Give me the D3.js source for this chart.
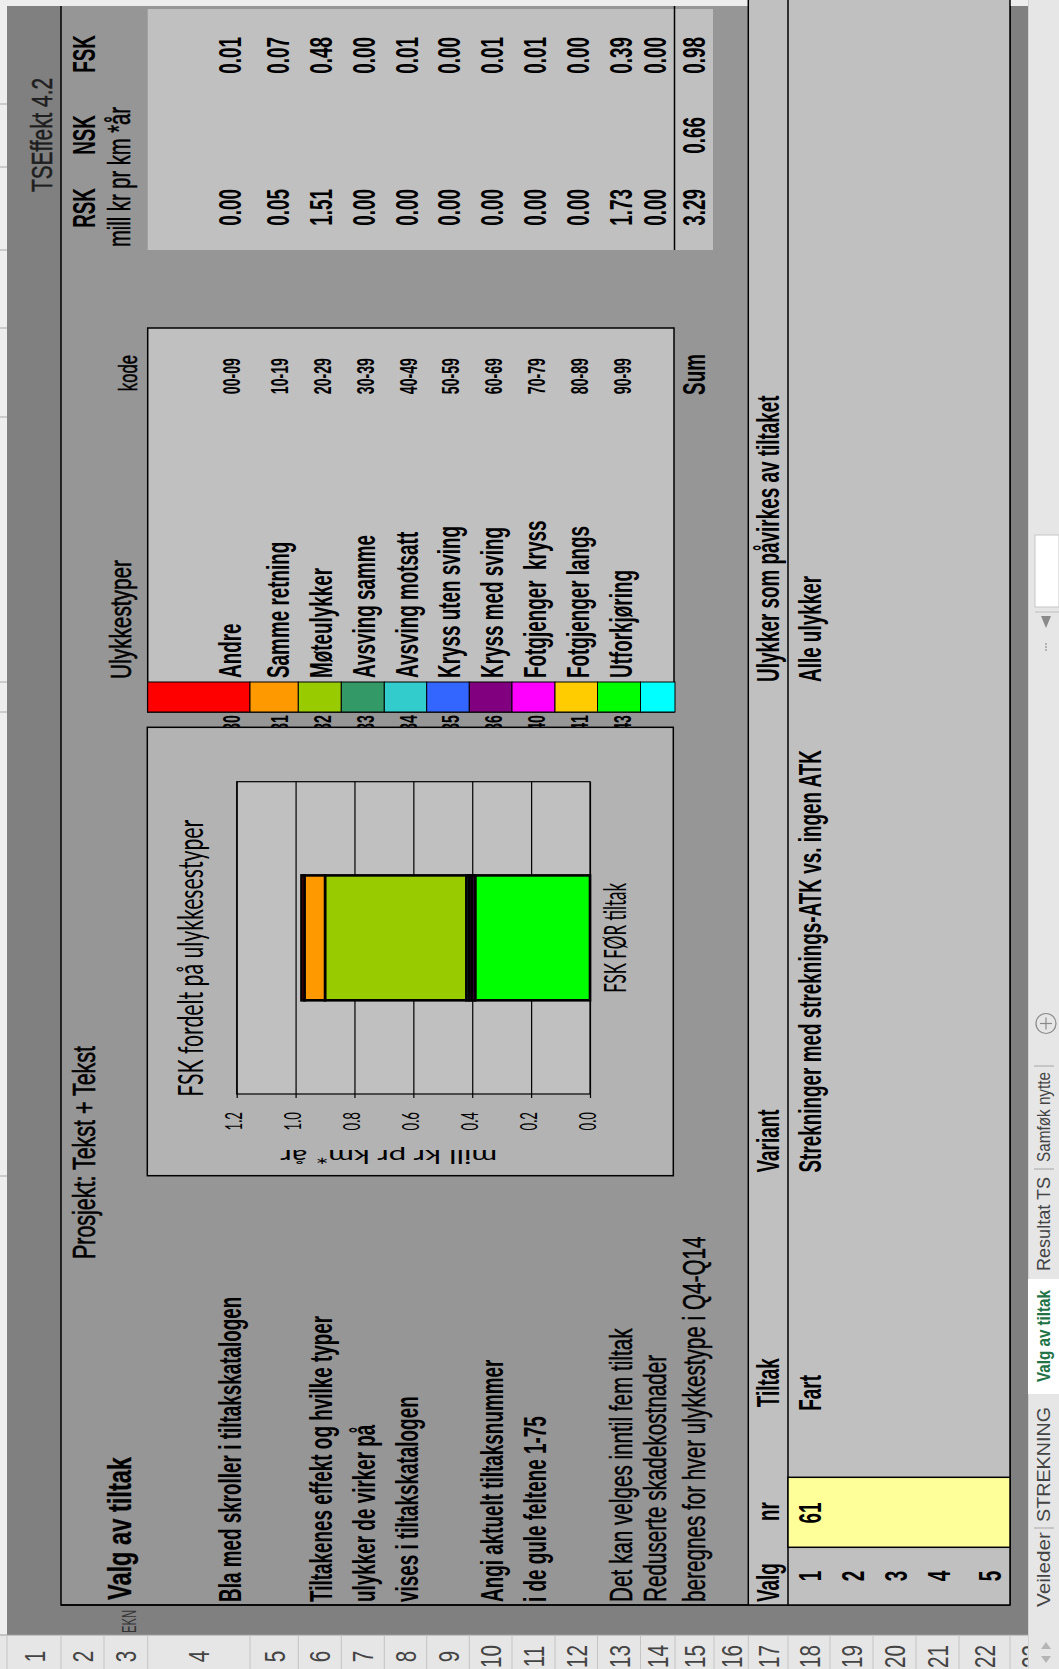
<!DOCTYPE html>
<html><head><meta charset="utf-8">
<script src="https://cdn.jsdelivr.net/npm/d3@7"></script>
<style>html,body{margin:0;padding:0;background:#fff;} svg{display:block} text{white-space:pre}</style>
</head><body>
<svg id="c" width="1059" height="1669"></svg>
<script>
// ================= DATA =================
const accidentTypes = ["Andre","Samme retning","Møteulykker","Avsving samme","Avsving motsatt","Kryss uten sving","Kryss med sving","Fotgjenger  kryss","Fotgjenger langs","Utforkjøring",""];
const typeCodes = ["00-09","10-19","20-29","30-39","40-49","50-59","60-69","70-79","80-89","90-99",""];
const hiddenCodes = ["30","31","32","33","34","35","36","40","41","43",""];
const typeColors = ["#ff0000","#ff9900","#99cc00","#339966","#33cccc","#3366ff","#800080","#ff00ff","#ffcc00","#00ff00","#00ffff"];
const costHeaders = ["RSK","NSK","FSK"];
const rskValues = [0.00,0.05,1.51,0.00,0.00,0.00,0.00,0.00,0.00,1.73,0.00];
const fskValues = [0.01,0.07,0.48,0.00,0.01,0.00,0.01,0.01,0.00,0.39,0.00];
const costSums = [3.29,0.66,0.98];
const barCategories = ["FSK FØR tiltak"];
const yTicks = [0,0.2,0.4,0.6,0.8,1.0,1.2];
const choiceNumbers = ["1","2","3","4","5"];
const chosenNr = ["61"];
const chosenTiltak = ["Fart"];
const chosenVariant = ["Strekninger med streknings-ATK vs. ingen ATK"];
const chosenUlykker = ["Alle ulykker"];
const instructionRows = [4,6,7,8,10,11,13,14,15];
const instructionText = ["Bla med skroller i tiltakskatalogen","Tiltakenes effekt og hvilke typer","ulykker de virker på","vises i tiltakskatalogen","Angi aktuelt tiltaksnummer","i de gule feltene 1-75","Det kan velges inntil fem tiltak","Reduserte skadekostnader","beregnes for hver ulykkestype i Q4-Q14"];
const instructionBold = [true,true,true,true,true,true,false,false,false];
const sheetTabs = ["Veileder","STREKNING","Valg av tiltak","Resultat TS","Samføk nytte"];
const rowNumbers = d3.range(1,24).map(String);

// ================= LAYOUT =================
const FONT = "'Liberation Sans', Arial, sans-serif";
const CFONT = "Lato, 'Open Sans', sans-serif";
const rowB = [7,61,104,147.7,250,298.3,341.3,384.3,426.7,469.3,512,555,597.5,640.5,675,714,748.3,788,830,873,916,959,1010,1052];
const base = r => rowB[r] - 9;
const B = {size:32, weight:700, k:0.59};
const R = {size:31, weight:400, k:0.667, thick:0.5};

const svg = d3.select('#c');
// the sheet is drawn in its own frame (u to the right, v down) and turned a quarter turn
const root = svg.append('g').attr('transform','translate(0,1669) rotate(-90)');

function box(p,u0,u1,v0,v1,fill,stroke,sw){
  return p.append('rect').attr('x',u0).attr('y',v0).attr('width',u1-u0).attr('height',v1-v0)
    .attr('fill',fill).attr('stroke',stroke||'none').attr('stroke-width',sw||0);
}
function line(p,u0,v0,u1,v1,stroke,sw){
  return p.append('line').attr('x1',u0).attr('y1',v0).attr('x2',u1).attr('y2',v1).attr('stroke',stroke).attr('stroke-width',sw);
}
function T(p,s,o){
  if(!s) return null;
  const fill = o.fill||'#000';
  const t = p.append('text').text(s)
    .attr('font-family',o.fam||FONT).attr('font-size',o.size)
    .attr('font-weight',o.weight||400).attr('fill',fill)
    .attr('y',o.v).attr('x',0);
  if(o.thick){ t.attr('stroke',fill).attr('stroke-width',o.thick); }
  const nat = t.node().getComputedTextLength();
  const L = o.len!=null ? o.len : nat*(o.k||1);
  let x0 = o.u;
  if(o.anchor==='end') x0 = o.u - L; else if(o.anchor==='middle') x0 = o.u - L/2;
  t.attr('x',x0).attr('textLength',L).attr('lengthAdjust','spacingAndGlyphs');
  return t;
}

// ---- backgrounds ----
box(root,0,1669,0,1059,'#808080');
box(root,34,1669,0,7,'#eeeeee');
[493,957,987,1252,1341,1419,1502,1565].forEach(u=>line(root,u,0,u,7,'#a8a8a8',1));
box(root,64,1700,61,1010,'#969696','#000',1.5);
box(root,1663,1669,0,1028,'#ededed');

// row header
box(root,0,34,0,1028,'#e6e6e6');
line(root,34,0,34,1028,'#9c9c9c',1);
rowB.forEach(v=>line(root,0,v,34,v,'#c4c4c4',1));
rowNumbers.forEach((s,i)=>{
  const vc = (rowB[i]+rowB[i+1])/2;
  T(root,s,{u:12.5,v:vc+10.5,size:30,weight:400,k:0.69,anchor:'middle',fill:'#444'});
});

// ---- header texts ----
T(root,"TSEffekt 4.2",{u:1477,v:52,size:29,len:114,fill:'#1e1e1e',thick:0.5});
T(root,"Prosjekt: Tekst + Tekst",{u:410,v:95,size:31,len:213,thick:0.6});
T(root,"EKN",{u:36,v:136,size:20,len:23,fill:'#333'});
T(root,"Valg av tiltak",{u:69,v:131,size:33,weight:700,len:143,thick:0.3});

// ---- table box with RSK / NSK / FSK ----
box(root,1419,1660,147.7,713,'#c0c0c0');
line(root,1419,674.5,1663,674.5,'#000',1.5);
const colRight = [1480,1552,1632];
const headRight = [1481,1554,1634];
costHeaders.forEach((h,i)=>T(root,h,Object.assign({u:headRight[i],v:base(2),anchor:'end'},B)));
T(root,"mill kr pr km *år",{u:1422,v:130,size:31,len:140,thick:0.5});
rskValues.forEach((d,i)=>T(root,d.toFixed(2),Object.assign({u:colRight[0],v:base(4+i),anchor:'end'},B)));
fskValues.forEach((d,i)=>T(root,d.toFixed(2),Object.assign({u:colRight[2],v:base(4+i),anchor:'end'},B)));
costSums.forEach((d,i)=>T(root,d.toFixed(2),Object.assign({u:colRight[i],v:base(15),anchor:'end'},B)));

// ---- legend box ----
T(root,"Ulykkestyper",{u:990,v:131,size:29,len:119,thick:0.6});
T(root,"kode",{u:1314,v:136.7,size:25,weight:400,k:0.667,anchor:'end',thick:0.5});
box(root,957,1341,147.7,674,'#c0c0c0','#000',1.5);
hiddenCodes.forEach((s,i)=>T(root,s,{u:954,v:rowB[4+i]-10,size:24,weight:700,k:0.59,anchor:'end'}));
accidentTypes.forEach((s,i)=>{
  box(root,957,987,rowB[3+i],rowB[4+i],typeColors[i],'#000',1);
  T(root,s,Object.assign({u:991,v:base(4+i)},B));
  T(root,typeCodes[i],{u:1311,v:rowB[4+i]-10,size:24,weight:700,k:0.59,anchor:'end'});
});
T(root,"Sum",Object.assign({u:1315,v:base(15),anchor:'end'},B));

// ---- instructions ----
instructionText.forEach((s,i)=>{
  T(root,s,Object.assign({u:67,v:base(instructionRows[i])}, instructionBold[i]?B:R));
});

// ---- chart ----
const chart = root.append('g');
box(chart,493.3,941.7,147.3,673.3,'#b3b3b3','#000',1.5);
const y = d3.scaleLinear().domain([0,1.2]).range([590,236.7]);
const x = d3.scaleBand().domain(barCategories).range([575,887.3]).paddingInner(0).paddingOuter(0.75);
box(chart,575,887.3,236.7,590,'#c0c0c0');
const grid = chart.append('g').attr('transform','translate(575,0)')
  .call(d3.axisLeft(y).tickValues(yTicks).tickSize(-(887.3-575)).tickFormat(''));
grid.select('.domain').remove();
grid.selectAll('line').attr('stroke','#000').attr('stroke-width',1.2);
const yAx = chart.append('g').attr('transform','translate(575,0)')
  .call(d3.axisLeft(y).tickValues(yTicks).tickSizeInner(4).tickSizeOuter(0).tickPadding(14).tickFormat(d3.format('.1f')));
yAx.select('.domain').remove();
yAx.selectAll('line').attr('stroke','#000').attr('stroke-width',1.2);
yAx.selectAll('text').attr('font-family',CFONT).attr('font-size',24).attr('fill','#000')
  .attr('dy','0.22em').attr('text-anchor','start').each(function(){
    const L = 18.5; d3.select(this).attr('x',-18-L).attr('textLength',L).attr('lengthAdjust','spacingAndGlyphs');
  });
box(chart,575,887.3,236.7,590,'none','#000',1.2);

const stackKeys = d3.range(accidentTypes.length).reverse();
const stackRow = [Object.fromEntries(fskValues.map((d,i)=>[i,d]))];
const series = d3.stack().keys(stackKeys)(stackRow);
chart.append('g').selectAll('g').data(series).join('g')
  .attr('fill',s=>typeColors[s.key])
  .selectAll('rect').data(s=>s).join('rect')
  .attr('x',x(barCategories[0])).attr('width',x.bandwidth())
  .attr('y',d=>y(d[1])).attr('height',d=>y(d[0])-y(d[1]))
  .attr('stroke','#000').attr('stroke-width',2.6);

const xAx = chart.append('g').attr('transform','translate(0,590)')
  .call(d3.axisBottom(x).tickSize(0).tickPadding(15));
xAx.select('.domain').remove();
xAx.selectAll('text').attr('font-family',CFONT).attr('font-size',30).attr('fill','#000')
  .attr('text-anchor','start').each(function(d){
    const L = 110; d3.select(this).attr('x',-L/2).attr('textLength',L).attr('lengthAdjust','spacingAndGlyphs');
  });
T(chart,"FSK fordelt på ulykkesestyper",{u:572.3,v:202.7,size:35,len:277,fam:CFONT});
const yt = chart.append('g').attr('transform','translate(519,388.8) rotate(-90)');
T(yt,"mill kr pr km* år",{u:0,v:0,size:19,len:217,fam:CFONT,anchor:'middle'});

// ---- choice table ----
box(root,64,1700,748.3,1010,'#c0c0c0');
line(root,64,748.3,1669,748.3,'#000',1.5);
line(root,64,788,1669,788,'#000',1.5);
line(root,64,1010,1669,1010,'#000',1.5);
line(root,64,61,64,1010,'#000',1.5);
box(root,121.7,191.7,788,1010,'#ffff99','#000',1.5);
T(root,"Valg",Object.assign({u:67,v:base(17)},B));
T(root,"nr",Object.assign({u:157.5,v:base(17),anchor:'middle'},B));
T(root,"Tiltak",Object.assign({u:261.7,v:base(17)},B));
T(root,"Variant",Object.assign({u:496.5,v:base(17)},B));
T(root,"Ulykker som påvirkes av tiltaket",Object.assign({u:987,v:base(17)},B));
choiceNumbers.forEach((s,i)=>T(root,s,Object.assign({u:93,v:base(18+i),anchor:'middle'},B)));
chosenNr.forEach((s,i)=>T(root,s,Object.assign({u:156,v:base(18+i),anchor:'middle'},B)));
chosenTiltak.forEach((s,i)=>T(root,s,Object.assign({u:258.3,v:base(18+i)},B)));
chosenVariant.forEach((s,i)=>T(root,s,Object.assign({u:496.5,v:base(18+i)},B)));
chosenUlykker.forEach((s,i)=>T(root,s,Object.assign({u:987,v:base(18+i)},B)));

// ---- sheet tab bar ----
box(root,0,1669,1028,1059,'#e6e6e6');
line(root,0,1028.5,1669,1028.5,'#d2d2d2',1);
box(root,275,390,1028,1059,'#ffffff');
const tabStart = [62,147,287,398,507];
const tabLen = [75,115,92,94,90];
sheetTabs.forEach((s,i)=>{
  const active = i===2;
  T(root,s,{u:tabStart[i],v:1050,size:19,weight:active?700:400,len:tabLen[i],fill:active?'#217346':'#444'});
});
[141,500,603].forEach(u=>line(root,u,1034,u,1054,'#a6a6a6',1));
root.append('circle').attr('cx',645.5).attr('cy',1046).attr('r',10).attr('fill','none').attr('stroke','#8a8a8a').attr('stroke-width',1.2);
line(root,639.5,1046,651.5,1046,'#8a8a8a',1.2);
line(root,645.5,1040,645.5,1052,'#8a8a8a',1.2);
root.append('path').attr('d','M6,1046 L13,1041 L13,1051 Z').attr('fill','#b5b5b5');
root.append('path').attr('d','M27,1046 L20,1041 L20,1051 Z').attr('fill','#b5b5b5');
[1019,1022,1025].forEach(u=>root.append('circle').attr('cx',u).attr('cy',1046).attr('r',0.9).attr('fill','#9a9a9a'));
root.append('path').attr('d','M1041,1046 L1053,1041 L1053,1051 Z').attr('fill','#8a8a8a');
line(root,1057,1035,1057,1059,'#bdbdbd',1);
box(root,1062,1134,1035,1059,'#ffffff','#c6c6c6',1);
</script>
</body></html>
